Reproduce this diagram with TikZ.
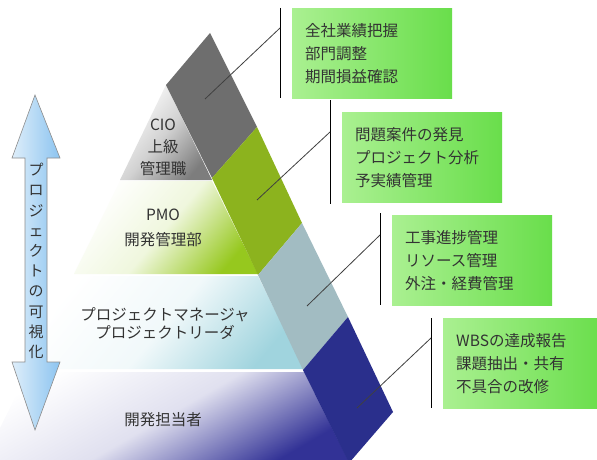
\documentclass[tikz,border=0pt]{standalone}
\usepackage{fontspec}
\setmainfont{Noto Sans CJK JP}
\usetikzlibrary{positioning}

\definecolor{bandgray}{RGB}{110,110,110}
\definecolor{bandgreen}{RGB}{140,179,30}
\definecolor{bandblue}{RGB}{162,188,194}
\definecolor{banddark}{RGB}{42,47,140}
\definecolor{boxlight}{RGB}{170,240,145}
\definecolor{boxdark}{RGB}{105,222,75}
\definecolor{arrowlight}{RGB}{222,238,250}
\definecolor{arrowdark}{RGB}{140,196,240}
\definecolor{layerone}{RGB}{125,125,125}
\definecolor{layertwo}{RGB}{150,200,30}
\definecolor{layerthree}{RGB}{160,212,222}
\definecolor{layerfour}{RGB}{50,50,150}

\tikzset{
  taskbox/.style={left color=boxlight, right color=boxdark, anchor=north west,
    minimum width=160pt, minimum height=90pt, text width=134pt, inner xsep=13pt,
    align=left, text=black!80, font=\fontsize{15.5}{23}\selectfont},
  rankname/.style={align=center, text=black!80, inner sep=0pt},
  layer/.style={top color=white, bottom color=#1, middle color=#1!15!white, shading angle=50},
  leader/.style={black!75, line width=0.8pt},
  stem/.style={black, line width=1pt},
}

\begin{document}
\begin{tikzpicture}[x=1pt,y=-1pt]
\useasboundingbox (0,0) rectangle (597,460);
\fill[white] (0,0) rectangle (597,460);

% pyramid layers
\shade[layer=layerone, middle color=layerone!35!white] (166,85) -- (120,180) -- (212,180) -- cycle;
\shade[layer=layertwo]   (120,181) -- (74,274) -- (258,274) -- (212,181) -- cycle;
\shade[layer=layerthree] (74,276) -- (28,369) -- (304,369) -- (258,276) -- cycle;
\shade[layer=layerfour, shading angle=30] (28,372) -- (-16,460) -- (348,460) -- (304,372) -- cycle;

% slanted band
\coordinate (l0) at (166,85);  \coordinate (r0) at (210,33);
\coordinate (l1) at (212,178); \coordinate (r1) at (257,127);
\coordinate (l2) at (258,275); \coordinate (r2) at (302,223);
\coordinate (l3) at (303,370); \coordinate (r3) at (348,317);
\coordinate (l4) at (349,463); \coordinate (r4) at (393,412);
\fill[bandgray]  (l0) -- (r0) -- (r1) -- (l1) -- cycle;
\fill[bandgreen] (l1) -- (r1) -- (r2) -- (l2) -- cycle;
\fill[bandblue]  (l2) -- (r2) -- (r3) -- (l3) -- cycle;
\fill[banddark]  (l3) -- (r3) -- (r4) -- (l4) -- cycle;

% left arrow
\shade[left color=arrowlight, right color=arrowdark, draw=black!45, line width=0.6pt]
  (35,95) -- (60,158) -- (47,158) -- (47,362) -- (60,362) -- (35,430)
  -- (12,362) -- (25,362) -- (25,158) -- (12,158) -- cycle;
\node[rankname, font=\fontsize{15}{20.2}\selectfont] (view) at (36,261)
  {プ\\ロ\\ジ\\ェ\\ク\\ト\\の\\可\\視\\化};

% ranks
\node[rankname, font=\fontsize{15.5}{22}\selectfont] (cio) at (163,147) {CIO\\上級\\管理職};
\node[rankname, font=\fontsize{15.5}{25}\selectfont] (pmo) at (163,228) {PMO\\開発管理部};
\node[rankname, font=\fontsize{15.5}{18}\selectfont] (pm) at (165,324)
  {プロジェクトマネージャ\\プロジェクトリーダ};
\node[rankname, font=\fontsize{15.5}{18}\selectfont] (dev) at (163,420) {開発担当者};

% task boxes
\node[taskbox] (t1) at (292,8)   {全社業績把握\\部門調整\\期間損益確認};
\node[taskbox] (t2) at (342,112) {問題案件の発見\\プロジェクト分析\\予実績管理};
\node[taskbox] (t3) at (392,215) {工事進捗管理\\リソース管理\\外注・経費管理};
\node[taskbox] (t4) at (443,318) {WBSの達成報告\\課題抽出・共有\\不具合の改修};

% stems and leaders
\coordinate (s1) at (205,99);
\coordinate (s2) at (257,200);
\coordinate (s3) at (307,306);
\coordinate (s4) at (357,408);
\foreach \i/\up/\down in {1/0/0, 2/12/2, 3/2/0, 4/0/0} {
  \draw[stem] ([xshift=-12pt,yshift=\up pt]t\i.north west) -- ([xshift=-12pt,yshift=-\down pt]t\i.south west);
  \draw[leader] (s\i) -- ([xshift=-12pt,yshift=-20pt]t\i.north west);
}
\end{tikzpicture}
\end{document}
